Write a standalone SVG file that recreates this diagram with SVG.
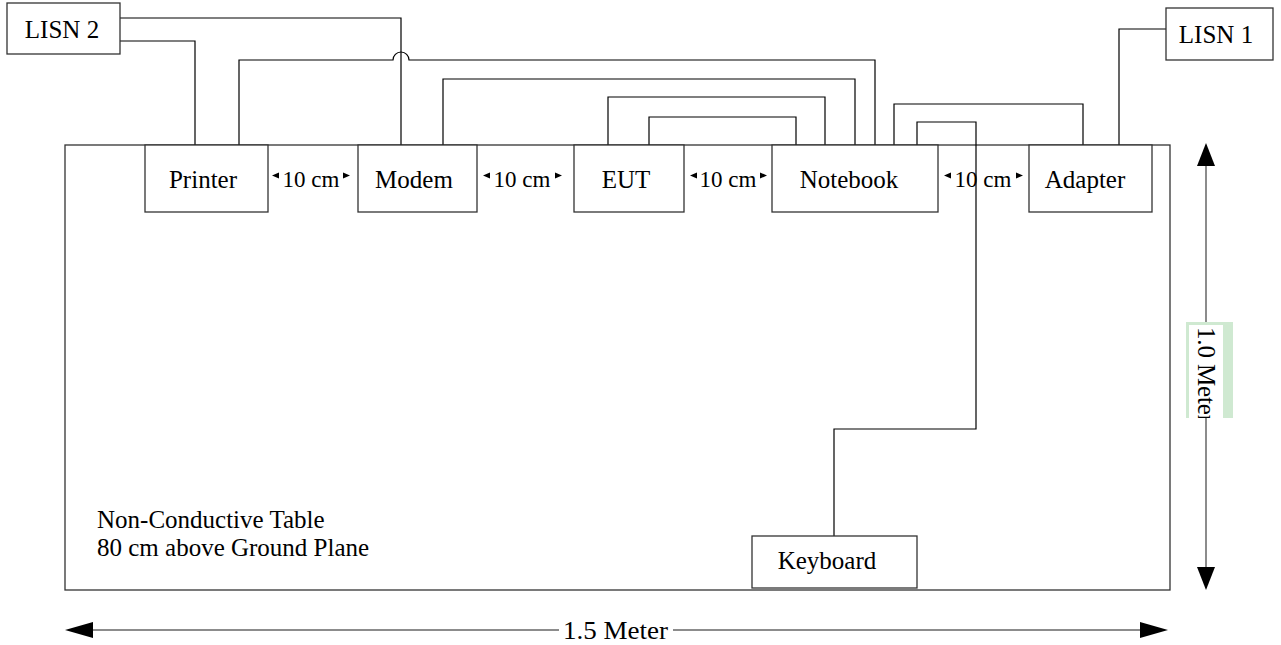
<svg xmlns="http://www.w3.org/2000/svg" width="1281" height="645" viewBox="0 0 1281 645">
<style>
.box{fill:#fff;stroke:#333;stroke-width:1.3}
.tbl{fill:none;stroke:#333;stroke-width:1.3}
.w{fill:none;stroke:#000;stroke-width:1.2}
.lbl{font-family:"Liberation Serif","Times New Roman",serif;font-size:25px;fill:#000;text-anchor:middle}
.note{font-family:"Liberation Serif","Times New Roman",serif;font-size:25px;fill:#000}
.cm{font-family:"Liberation Serif","Times New Roman",serif;font-size:23px;fill:#000;text-anchor:middle}
.dim{stroke:#666;stroke-width:1.5;fill:none}
.ah{fill:#000}
</style>
<defs>
<clipPath id="vclip"><rect x="1186" y="322" width="47" height="96"/></clipPath>
</defs>
<g id="table">
<rect class="tbl" x="65" y="145" width="1105" height="445"/>
<text class="note" x="97" y="528">Non-Conductive Table</text>
<text class="note" x="97" y="556">80 cm above Ground Plane</text>
</g>
<g id="connectors">
<path class="w" d="M120,18 H401 V145"/>
<path class="w" d="M120,41 H195 V145"/>
<path class="w" d="M239,145 V60 H393 A8,8 0 0 1 409,60 H875 V145"/>
<path class="w" d="M443,145 V79 H855 V145"/>
<path class="w" d="M608,145 V97 H825 V145"/>
<path class="w" d="M649,145 V117 H796 V145"/>
<path class="w" d="M894,145 V104 H1083 V145"/>
<path class="w" d="M917,145 V122 H976 V429 H834 V536"/>
<path class="w" d="M1166,29 H1119 V145"/>
</g>
<g id="lisn2"><rect class="box" x="7" y="3" width="113" height="51"/><text class="lbl" x="62" y="38" font-size="26">LISN 2</text></g>
<g id="lisn1"><rect class="box" x="1166" y="8" width="107" height="52"/><text class="lbl" x="1216" y="43" font-size="26">LISN 1</text></g>
<g id="printer"><rect class="box" x="145" y="145" width="123" height="67"/><text class="lbl" x="203" y="188">Printer</text></g>
<g id="modem"><rect class="box" x="358" y="145" width="119" height="67"/><text class="lbl" x="414" y="188">Modem</text></g>
<g id="eut"><rect class="box" x="574" y="145" width="110" height="67"/><text class="lbl" x="626" y="188">EUT</text></g>
<g id="notebook"><rect class="box" x="772" y="145" width="166" height="67"/><text class="lbl" x="849" y="188">Notebook</text></g>
<g id="adapter"><rect class="box" x="1029" y="145" width="123" height="67"/><text class="lbl" x="1085" y="188">Adapter</text></g>
<g id="keyboard"><rect class="box" x="752" y="536" width="165" height="52"/><text class="lbl" x="827" y="569">Keyboard</text></g>
<g id="spacing">
<text class="cm" x="311" y="187">10 cm</text>
<polygon class="ah" points="272,175.5 279,172.5 279,178.5"/><polygon class="ah" points="350,175.5 343,172.5 343,178.5"/>
<text class="cm" x="522" y="187">10 cm</text>
<polygon class="ah" points="483,175.5 490,172.5 490,178.5"/><polygon class="ah" points="562,175.5 555,172.5 555,178.5"/>
<text class="cm" x="728" y="187">10 cm</text>
<polygon class="ah" points="690,175.5 697,172.5 697,178.5"/><polygon class="ah" points="767,175.5 760,172.5 760,178.5"/>
<text class="cm" x="983" y="187">10 cm</text>
<polygon class="ah" points="944,175.5 951,172.5 951,178.5"/><polygon class="ah" points="1023,175.5 1016,172.5 1016,178.5"/>
</g>
<g id="dim-height">
<line class="dim" x1="1206" y1="165" x2="1206" y2="322"/>
<line class="dim" x1="1206" y1="418" x2="1206" y2="568"/>
<polygon class="ah" points="1206,143 1197,166 1215,166"/>
<polygon class="ah" points="1206,590 1197,567 1215,567"/>
<rect x="1186" y="322" width="47" height="96" fill="#cfe9d1"/>
<rect x="1189" y="325" width="34" height="93" fill="#fff"/>
<g clip-path="url(#vclip)"><text class="note" font-size="23" transform="translate(1198,327) rotate(90)" x="0" y="0" textLength="96" lengthAdjust="spacing">1.0 Meter</text></g>
</g>
<g id="dim-width">
<line class="dim" x1="92" y1="630" x2="559" y2="630"/>
<line class="dim" x1="673" y1="630" x2="1141" y2="630"/>
<polygon class="ah" points="65,630 93,622 93,638"/>
<polygon class="ah" points="1168,630 1140,622 1140,638"/>
<text class="note" x="563" y="639" font-size="26" textLength="105" lengthAdjust="spacingAndGlyphs">1.5 Meter</text>
</g>
</svg>
